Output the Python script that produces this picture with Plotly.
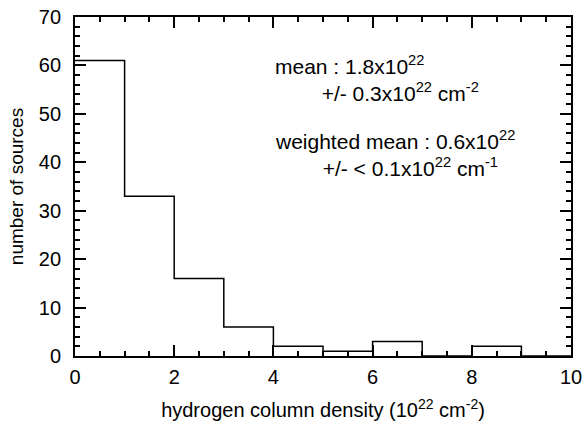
import plotly.graph_objects as go

bin_edges = [0, 1, 2, 3, 4, 5, 6, 7, 8, 9, 10]
counts = [61, 33, 16, 6, 2, 1, 3, 0, 2, 0]

x_step = bin_edges
y_step = counts + [counts[-1]]

FONT = "Liberation Sans, Arial, sans-serif"

fig = go.Figure()
fig.add_trace(go.Scatter(x=x_step, y=y_step, mode="lines", line_shape="hv",
                         line=dict(color="black", width=1.5), showlegend=False,
                         hoverinfo="skip", cliponaxis=True))

axis_common = dict(showgrid=False, zeroline=False, showline=True, linecolor="black",
                   linewidth=1.8, mirror="allticks", ticks="inside", ticklen=11,
                   tickwidth=1.5, tickcolor="black", automargin=False,
                   ticklabeloverflow="allow",
                   tickfont=dict(family=FONT, size=20, color="black"))

fig.update_xaxes(range=[0, 10], dtick=2, tick0=0, ticklabelstandoff=2,
                 minor=dict(dtick=0.5, ticks="inside", ticklen=5, tickwidth=1.5, tickcolor="black"),
                 title=dict(text="hydrogen column density (10<sup>22</sup> cm<sup>-2</sup>)",
                            font=dict(family=FONT, size=20, color="black"), standoff=16),
                 **axis_common)
fig.update_yaxes(range=[0, 70], dtick=10, tick0=0, ticklabelstandoff=8,
                 minor=dict(dtick=2, ticks="inside", ticklen=5, tickwidth=1.5, tickcolor="black"),
                 title=dict(text="number of sources",
                            font=dict(family=FONT, size=19, color="black"), standoff=10),
                 **axis_common)

ann_font = dict(family=FONT, size=21, color="black")
indent = "&nbsp;" * 8
annotations = [
    (3.99, 57.4, "mean : 1.8x10<sup>22</sup><br>" + indent + "+/- 0.3x10<sup>22</sup> cm<sup>-2</sup>"),
    (3.99, 41.9, "weighted mean : 0.6x10<sup>22</sup><br>" + indent + "+/- &lt; 0.1x10<sup>22</sup> cm<sup>-1</sup>"),
]
for ax_, ay_, t in annotations:
    fig.add_annotation(x=ax_, y=ay_, text=t, showarrow=False, xanchor="left",
                       yanchor="middle", align="left", font=ann_font)

fig.update_layout(width=582, height=423, plot_bgcolor="white", paper_bgcolor="white",
                  margin=dict(l=75, r=11, t=17, b=67))

fig.write_html("out.html")
